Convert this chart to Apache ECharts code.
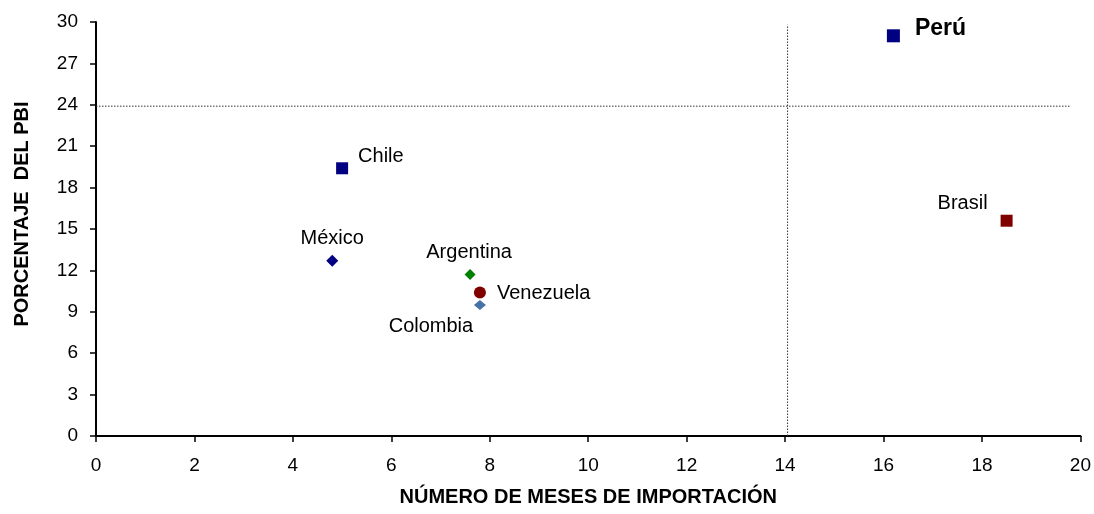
<!DOCTYPE html>
<html>
<head>
<meta charset="utf-8">
<script src="https://cdn.jsdelivr.net/npm/echarts@6/dist/echarts.min.js"></script>
<style>html,body{margin:0;padding:0;background:#fff}#c{width:1094px;height:514px}</style>
</head>
<body>
<div id="c"></div>
<script>
var countries = ['Perú', 'Chile', 'México', 'Argentina', 'Venezuela', 'Colombia', 'Brasil'];
var mesesImportacion = [16.2, 5.0, 4.8, 7.6, 7.8, 7.8, 18.5];
var porcentajePBI = [29.0, 19.4, 12.7, 11.7, 10.4, 9.5, 15.6];
var refVerticalX = [14.05, 14.05];
var refVerticalY = [0, 29.8];
var refHorizontalX = [0, 19.8];
var refHorizontalY = [23.9, 23.9];
var xTicks = [0, 2, 4, 6, 8, 10, 12, 14, 16, 18, 20];
var yTicks = [0, 3, 6, 9, 12, 15, 18, 21, 24, 27, 30];

var styles = {
  'Perú':      {symbol: 'rect', size: 13, color: '#000080', pos: 'right', offset: [10, -7], bold: true, fs: 23},
  'Chile':     {symbol: 'rect', size: 12, color: '#000080', pos: 'right', offset: [5, -12]},
  'México':    {symbol: 'diamond', size: 12, color: '#000080', pos: 'top', offset: [0, -1]},
  'Argentina': {symbol: 'diamond', size: 11, color: '#008000', pos: 'top', offset: [-1, -2]},
  'Venezuela': {symbol: 'circle', size: 12, color: '#800000', pos: 'right', offset: [6, 1]},
  'Colombia':  {symbol: 'diamond', size: [12, 10], color: '#4672A8', pos: 'bottom', offset: [-49, 2]},
  'Brasil':    {symbol: 'rect', size: 12, color: '#800000', pos: 'top', offset: [-44, 4]}
};

var FONT = 'Liberation Sans, Arial, sans-serif';
var series = [];
series.push({
  type: 'line', silent: true, symbol: 'none', animation: false,
  data: refVerticalX.map(function (x, i) { return [x, refVerticalY[i]]; }),
  lineStyle: {color: '#333', width: 1, type: [1.5, 1.5]}
});
series.push({
  type: 'line', silent: true, symbol: 'none', animation: false,
  data: refHorizontalX.map(function (x, i) { return [x, refHorizontalY[i]]; }),
  lineStyle: {color: '#333', width: 1, type: [1.5, 1.5]}
});
countries.forEach(function (name, i) {
  var s = styles[name];
  series.push({
    type: 'scatter', name: name, animation: false,
    symbol: s.symbol, symbolSize: s.size,
    itemStyle: {color: s.color, opacity: 1},
    data: [[mesesImportacion[i], porcentajePBI[i]]],
    label: {
      show: true, formatter: name, position: s.pos, offset: s.offset,
      color: '#000', opacity: 1, fontFamily: FONT,
      fontSize: s.fs || 20, fontWeight: s.bold ? 'bold' : 'normal'
    }
  });
});

var chart = echarts.init(document.getElementById('c'));
chart.setOption({
  backgroundColor: '#fff',
  grid: {left: 96, right: 12, top: 22, bottom: 78},
  xAxis: {
    type: 'value', min: xTicks[0], max: xTicks[xTicks.length - 1], interval: 2,
    name: 'NÚMERO DE MESES DE IMPORTACIÓN', nameLocation: 'middle', nameGap: 51,
    nameTextStyle: {color: '#000', fontFamily: FONT, fontSize: 20, fontWeight: 'bold'},
    axisLine: {lineStyle: {color: '#000', width: 2}},
    axisTick: {show: true, length: 6, lineStyle: {color: '#000', width: 1.5}},
    axisLabel: {color: '#000', fontFamily: FONT, fontSize: 19, margin: 20},
    splitLine: {show: false}
  },
  yAxis: {
    type: 'value', min: yTicks[0], max: yTicks[yTicks.length - 1], interval: 3,
    name: 'PORCENTAJE  DEL PBI', nameLocation: 'middle', nameGap: 64,
    nameTextStyle: {color: '#000', fontFamily: FONT, fontSize: 20, fontWeight: 'bold', padding: [0, 0, 0, 30]},
    axisLine: {show: true, lineStyle: {color: '#000', width: 2}},
    axisTick: {show: true, length: 6, lineStyle: {color: '#000', width: 1.5}},
    axisLabel: {color: '#000', fontFamily: FONT, fontSize: 19, margin: 18},
    splitLine: {show: false}
  },
  series: series
});
</script>
</body>
</html>
